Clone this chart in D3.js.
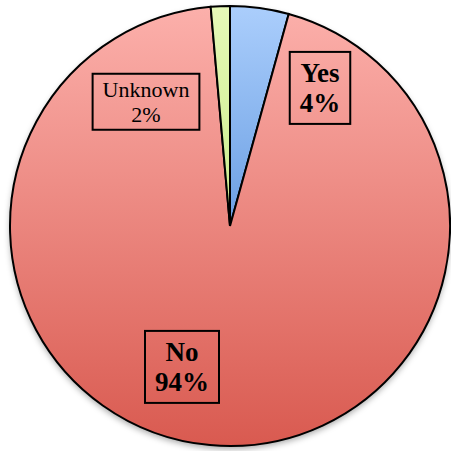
<!DOCTYPE html>
<html>
<head>
<meta charset="utf-8">
<script src="https://cdn.jsdelivr.net/npm/d3@7"></script>
<style>
  html, body { margin: 0; padding: 0; background: #fff; }
  svg { display: block; }
</style>
</head>
<body>
<div id="chart"></div>
<script>
// slices, clockwise from 12 o'clock
var categories = ['Yes', 'No', 'Unknown'];
var values = [4.3, 94.3, 1.4];
var labels = ['4%', '94%', '2%'];

var width = 451, height = 451;
var cx = 230, cy = 226, radius = 220;

// colours: top / bottom of each slice's gradient
var topColors = ['#abcefc', '#fcb0ab', '#e6f9b8'];
var bottomColors = ['#6b9fe3', '#d95a50', '#cbec8c'];

// label box centres, offset from the pie centre (picked by hand like the original)
var labelOffsets = [[90, -138], [-48, 141], [-84, -124]];
var labelBold = [true, true, false];
var labelSize = [27, 27, 22];

var data = categories.map((c, i) => ({ cat: c, value: values[i], label: labels[i], i: i }));

var svg = d3.select('#chart').append('svg')
    .attr('width', width)
    .attr('height', height);

var defs = svg.append('defs');

var shadow = defs.append('filter')
    .attr('id', 'shadow')
    .attr('x', '-10%').attr('y', '-10%')
    .attr('width', '120%').attr('height', '125%');
shadow.append('feDropShadow')
    .attr('dx', 0).attr('dy', 3)
    .attr('stdDeviation', 3)
    .attr('flood-color', '#000')
    .attr('flood-opacity', 0.35);

data.forEach(d => {
  var g = defs.append('linearGradient')
      .attr('id', 'grad' + d.i)
      .attr('x1', 0).attr('y1', 0)
      .attr('x2', 0).attr('y2', 1);
  g.append('stop').attr('offset', '0%').attr('stop-color', topColors[d.i]);
  g.append('stop').attr('offset', '100%').attr('stop-color', bottomColors[d.i]);
});

var pie = d3.pie()
    .sort(null)
    .value(d => d.value);

var arc = d3.arc()
    .innerRadius(0)
    .outerRadius(radius);

var group = svg.append('g')
    .attr('transform', 'translate(' + cx + ',' + cy + ')');

// shadow under the whole pie
group.append('circle')
    .attr('r', radius)
    .attr('fill', '#fff')
    .attr('filter', 'url(#shadow)');

group.selectAll('path.slice')
    .data(pie(data))
    .enter()
    .append('path')
    .attr('class', 'slice')
    .attr('d', arc)
    .attr('fill', d => 'url(#grad' + d.data.i + ')')
    .attr('stroke', '#000')
    .attr('stroke-width', 2)
    .attr('stroke-linejoin', 'miter');

// labels with boxes
data.forEach(d => {
  var off = labelOffsets[d.i];
  var lg = group.append('g')
      .attr('transform', 'translate(' + off[0] + ',' + off[1] + ')');
  var rect = lg.append('rect');
  var fs = labelSize[d.i];
  var txt = lg.append('text')
      .attr('text-anchor', 'middle')
      .style('font-family', '"Liberation Serif", "DejaVu Serif", serif')
      .style('font-weight', labelBold[d.i] ? 'bold' : 'normal')
      .style('font-size', fs + 'px')
      .attr('fill', '#000');
  var lineH = labelBold[d.i] ? 30 : 25;
  txt.append('tspan').attr('x', 0).attr('y', -lineH / 2 + fs * 0.33).text(d.cat);
  txt.append('tspan').attr('x', 0).attr('y', lineH / 2 + fs * 0.33).text(d.label);
  var bb = txt.node().getBBox();
  var padX = labelBold[d.i] ? 10 : 10;
  var padY = labelBold[d.i] ? 6 : 3;
  rect.attr('x', bb.x - padX)
      .attr('y', bb.y - padY)
      .attr('width', bb.width + padX * 2)
      .attr('height', bb.height + padY * 2)
      .attr('fill', 'none')
      .attr('stroke', '#000')
      .attr('stroke-width', 2);
});
</script>
</body>
</html>
